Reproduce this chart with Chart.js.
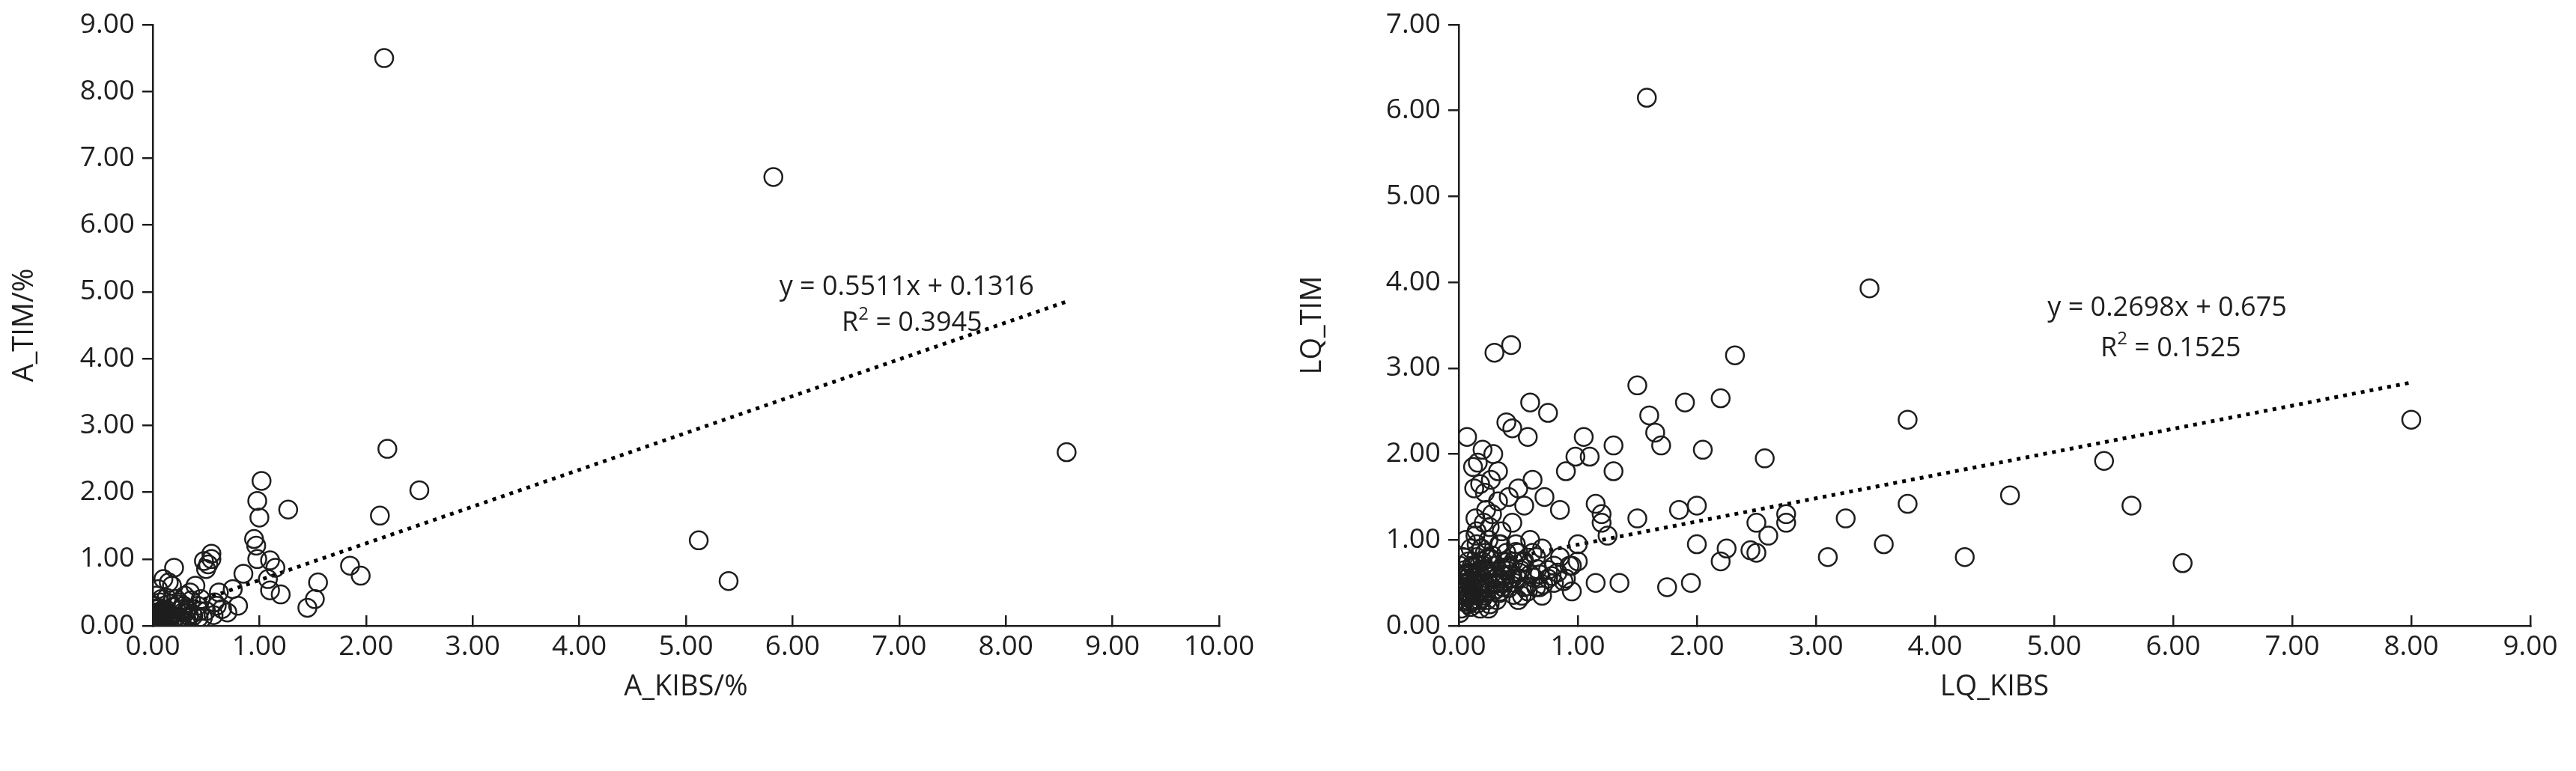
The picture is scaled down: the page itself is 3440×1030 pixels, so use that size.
<!DOCTYPE html>
<html>
<head>
<meta charset="utf-8">
<script src="https://cdn.jsdelivr.net/npm/chart.js@4.4.1/dist/chart.umd.min.js"></script>
<style>
  html, body { margin: 0; padding: 0; background: #fff; }
  .box { position: absolute; top: 0; width: 1720px; height: 1030px; }
</style>
</head>
<body>
<div class="box" style="left:0"><canvas id="leftChart"></canvas></div>
<div class="box" style="left:1720px"><canvas id="rightChart"></canvas></div>
<script>
// Left chart: A_KIBS/% vs A_TIM/%
const leftX = [2.17,5.82,8.57,2.20,2.50,2.13,1.02,0.98,1.00,1.27,0.95,0.97,0.98,1.10,1.15,1.08,1.10,1.20,1.85,1.95,1.45,1.52,1.55,5.12,5.40,
  0.85,0.75,0.80,0.70,0.55,0.55,0.52,0.50,0.48,0.20,0.10,0.15,0.18,0.40,0.35,0.45,0.60,0.65,0.30,0.25,0.28,0.38,0.42,0.33,0.22,
  0.05,0.08,0.12,0.03,0.06,0.10,0.14,0.02,0.04,0.07,0.09,0.11,0.16,0.19,0.21,0.24,0.26,0.31,0.36,0.44,0.01,0.03,0.05,0.13,0.17,
  0.02,0.06,0.08,0.12,0.15,0.23,0.27,0.34,0.47,0.58,0.62,0.04,0.09,0.18,0.29,
  0.01,0.02,0.03,0.04,0.05,0.06,0.07,0.08,0.10,0.12,0.14,0.16,0.02,0.04,0.06,0.09,0.11,0.13,0.20,0.25,0.32,0.37,0.43,0.50,0.57];
const leftY = [8.50,6.72,2.60,2.65,2.03,1.65,2.17,1.87,1.62,1.74,1.30,1.20,1.00,0.98,0.87,0.70,0.53,0.47,0.90,0.75,0.27,0.40,0.65,1.28,0.67,
  0.78,0.55,0.30,0.20,1.08,1.00,0.92,0.85,0.97,0.87,0.70,0.65,0.60,0.60,0.50,0.40,0.30,0.25,0.45,0.35,0.20,0.15,0.30,0.25,0.40,
  0.05,0.10,0.15,0.02,0.20,0.25,0.08,0.30,0.12,0.35,0.05,0.22,0.18,0.28,0.12,0.32,0.10,0.20,0.38,0.22,0.00,0.45,0.55,0.42,0.33,
  0.15,0.06,0.40,0.03,0.12,0.08,0.25,0.15,0.12,0.35,0.50,0.25,0.18,0.05,0.30,
  0.03,0.08,0.12,0.06,0.17,0.03,0.13,0.22,0.09,0.18,0.04,0.10,0.20,0.26,0.01,0.14,0.07,0.24,0.05,0.10,0.08,0.18,0.12,0.22,0.16];
const leftSlope = 0.5511, leftIntercept = 0.1316;
const leftTrendX = [0, 8.57];

// Right chart: LQ_KIBS vs LQ_TIM
const rightX = [1.58,3.45,0.44,0.30,2.32,1.50,3.77,8.00,2.20,1.90,0.60,0.75,0.40,1.60,1.65,1.70,2.05,2.57,5.42,0.07,1.05,1.30,0.98,1.10,0.90,1.30,
  4.63,5.65,3.77,2.00,1.85,2.75,2.75,3.25,2.50,2.60,1.50,1.20,1.15,2.25,2.45,2.50,3.10,3.57,4.25,6.08,1.75,1.95,2.00,2.20,1.35,1.15,0.95,
  0.05,0.10,0.15,0.20,0.25,0.30,0.35,0.40,0.45,0.50,0.55,0.60,0.65,0.70,0.75,0.80,0.85,0.90,0.95,1.00,0.05,0.10,0.15,0.20,0.25,0.30,
  0.35,0.40,0.45,0.50,0.55,0.60,0.65,0.70,0.75,0.80,0.02,0.08,0.12,0.18,0.22,0.28,0.32,0.38,0.42,0.48,0.52,0.58,0.62,0.68,0.03,0.06,
  0.09,0.13,0.17,0.21,0.26,0.33,0.37,0.46,0.53,0.04,0.07,0.11,0.14,0.19,0.24,0.27,0.31,0.36,0.43,0.16,0.23,0.29,0.34,0.12,0.18,0.22,
  0.14,0.26,0.20,0.33,0.55,0.62,0.72,0.85,1.20,1.25,1.00,0.30,0.50,0.45,0.58,0.68,0.15,0.25,0.35,
  0.01,0.02,0.03,0.04,0.05,0.06,0.07,0.08,0.09,0.10,0.11,0.12,0.13,0.14,0.15,0.16,0.17,0.18,0.19,0.20,0.21,0.22,0.23,0.24,0.25,
  0.02,0.04,0.06,0.08,0.10,0.12,0.14,0.16,0.18,0.20,0.22,0.24,0.26,0.28,0.30,0.32,0.34,0.36,0.38,0.40,0.42,0.44,0.46,0.48,0.50,
  0.01,0.03,0.05,0.07,0.09,0.11,0.13,0.15,0.17,0.19,0.27,0.31,0.39,0.41,0.47,0.51,0.54,0.57,0.63,0.66,0.71,0.78,0.83,0.88,0.93];
const rightY = [6.15,3.93,3.27,3.18,3.15,2.80,2.40,2.40,2.65,2.60,2.60,2.48,2.37,2.45,2.25,2.10,2.05,1.95,1.92,2.20,2.20,2.10,1.97,1.97,1.80,1.80,
  1.52,1.40,1.42,1.40,1.35,1.30,1.20,1.25,1.20,1.05,1.25,1.30,1.42,0.90,0.88,0.85,0.80,0.95,0.80,0.73,0.45,0.50,0.95,0.75,0.50,0.50,0.40,
  0.30,0.45,0.60,0.35,0.50,0.70,0.40,0.85,0.55,0.30,0.75,0.60,0.45,0.90,0.65,0.50,0.80,0.55,0.70,0.95,0.60,0.90,1.10,0.75,1.00,0.55,
  0.95,0.65,1.20,0.85,0.45,1.00,0.80,0.35,0.55,0.70,0.20,0.25,0.40,0.20,0.85,1.30,0.30,0.60,1.50,0.95,0.65,0.40,0.85,0.60,0.50,1.00,
  0.35,1.60,0.30,1.20,0.25,1.45,0.45,0.75,0.35,0.80,0.55,0.30,1.05,0.90,0.65,1.70,0.50,1.10,0.70,1.90,1.35,2.00,0.95,1.85,1.65,1.55,
  1.25,1.15,2.05,1.80,1.40,1.70,1.50,1.35,1.20,1.05,0.75,0.48,1.60,2.30,2.20,0.45,0.35,0.20,0.55,0.15,
  0.40,0.55,0.28,0.65,0.48,0.33,0.75,0.58,0.22,0.42,0.68,0.36,0.52,0.80,0.26,0.62,0.44,0.90,0.32,0.70,0.50,0.38,0.78,0.60,0.46,
  0.50,0.35,0.62,0.27,0.45,0.58,0.72,0.40,0.52,0.66,0.30,0.48,0.82,0.42,0.56,0.38,0.68,0.50,0.74,0.44,0.60,0.36,0.86,0.54,0.70,
  0.60,0.45,0.38,0.52,0.70,0.30,0.95,0.64,0.48,0.78,0.42,0.58,0.68,0.50,0.62,0.74,0.46,0.56,0.66,0.48,0.58,0.62,0.52,0.70,0.60];
const rightSlope = 0.2698, rightIntercept = 0.675;
const rightTrendX = [0.02, 8.00];

const FONT = '"Open Sans", "Liberation Sans", sans-serif';
const INK = '#1e1e1e';

function toPoints(xs, ys) {
  return xs.map((x, i) => ({ x: x, y: ys[i] }));
}

// Draws the equation and R² labels at data coordinates
const labelPlugin = {
  id: 'eqLabels',
  afterDatasetsDraw(chart, args, opts) {
    const ctx = chart.ctx;
    const xs = chart.scales.x, ys = chart.scales.y;
    ctx.save();
    ctx.fillStyle = INK;
    ctx.textAlign = 'center';
    ctx.textBaseline = 'middle';
    ctx.font = '36px ' + FONT;
    ctx.fillText(opts.eq, xs.getPixelForValue(opts.x), ys.getPixelForValue(opts.y1));
    const px = xs.getPixelForValue(opts.x + opts.dx), py = ys.getPixelForValue(opts.y2);
    const base = 'R', rest = ' = ' + opts.r2;
    const w1 = ctx.measureText(base).width;
    ctx.font = '24px ' + FONT;
    const w2 = ctx.measureText('2').width;
    ctx.font = '36px ' + FONT;
    const w3 = ctx.measureText(rest).width;
    let sx = px - (w1 + w2 + w3) / 2;
    ctx.textAlign = 'left';
    ctx.fillText(base, sx, py);
    ctx.font = '24px ' + FONT;
    ctx.fillText('2', sx + w1, py - 12);
    ctx.font = '36px ' + FONT;
    ctx.fillText(rest, sx + w1 + w2, py);
    ctx.restore();
  }
};

function makeChart(id, cfg) {
  const trend = cfg.trendX.map(x => ({ x: x, y: cfg.slope * x + cfg.intercept }));
  return new Chart(document.getElementById(id), {
    type: 'scatter',
    data: {
      datasets: [{
        data: toPoints(cfg.xs, cfg.ys),
        pointRadius: 12,
        pointBorderWidth: 2.5,
        borderColor: INK,
        backgroundColor: 'rgba(0,0,0,0)'
      }, {
        type: 'line',
        data: trend,
        borderColor: '#000',
        borderWidth: 5,
        borderDash: [5, 7],
        pointRadius: 0,
        fill: false
      }]
    },
    options: {
      responsive: true,
      maintainAspectRatio: false,
      animation: false,
      layout: { padding: { top: 33, right: cfg.rightPad, left: 0, bottom: 85 } },
      plugins: {
        legend: { display: false },
        tooltip: { enabled: false },
        eqLabels: cfg.labels
      },
      scales: {
        x: {
          type: 'linear', min: 0, max: cfg.xMax,
          ticks: { stepSize: 1, color: INK, font: { size: 37, family: FONT }, padding: 20,
            callback: v => v.toFixed(2) },
          grid: { display: true, drawOnChartArea: false, drawTicks: true, tickLength: -14, color: INK, lineWidth: 2.5 },
          border: { color: INK, width: 2.5 },
          title: { display: true, text: cfg.xTitle, color: INK, font: { size: 38, family: FONT }, padding: { top: 0 } },
          afterFit: s => { s.height = 109; }
        },
        y: {
          type: 'linear', min: 0, max: cfg.yMax,
          ticks: { stepSize: 1, color: INK, font: { size: 37, family: FONT }, padding: 10,
            callback: v => v.toFixed(2) },
          grid: { display: true, drawOnChartArea: false, drawTicks: true, tickLength: 14, color: INK, lineWidth: 2.5 },
          border: { color: INK, width: 2.5 },
          title: { display: true, text: cfg.yTitle, color: INK, font: { size: 38, family: FONT }, padding: { top: 10, bottom: 6 } },
          afterFit: s => { s.width = cfg.yWidth; }
        }
      }
    },
    plugins: [labelPlugin]
  });
}

makeChart('leftChart', {
  xs: leftX, ys: leftY, slope: leftSlope, intercept: leftIntercept, trendX: leftTrendX,
  xMax: 10, yMax: 9, xTitle: 'A_KIBS/%', yTitle: 'A_TIM/%', yWidth: 204, rightPad: 92,
  labels: { eq: 'y = 0.5511x + 0.1316', r2: '0.3945', x: 7.07, dx: 0.05, y1: 5.07, y2: 4.53 }
});

makeChart('rightChart', {
  xs: rightX, ys: rightY, slope: rightSlope, intercept: rightIntercept, trendX: rightTrendX,
  xMax: 9, yMax: 7, xTitle: 'LQ_KIBS', yTitle: 'LQ_TIM', yWidth: 228, rightPad: 61,
  labels: { eq: 'y = 0.2698x + 0.675', r2: '0.1525', x: 5.95, dx: 0.03, y1: 3.70, y2: 3.23 }
});
</script>
</body>
</html>
